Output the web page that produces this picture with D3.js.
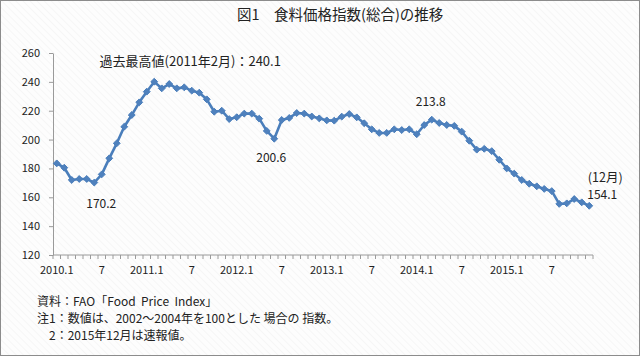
<!DOCTYPE html>
<html><head><meta charset="utf-8">
<script src="https://cdn.jsdelivr.net/npm/d3@7"></script>
<style>
html,body{margin:0;padding:0;background:#fff;}
svg{display:block;font-family:"Noto Sans CJK JP","Noto Sans",sans-serif;}
</style></head>
<body>
<svg id="c" width="640" height="356"></svg>
<script>
const months = d3.range(72);
const xTickLabels = ["2010.1","7","2011.1","7","2012.1","7","2013.1","7","2014.1","7","2015.1","7"];
const values = [
 183.5,180.5,172.0,172.7,172.7,170.2,175.9,187.0,197.4,208.9,217.0,225.8,
 233.2,240.1,235.5,238.5,235.5,236.2,233.9,232.5,227.9,219.3,220.0,214.2,
 215.5,218.0,218.0,214.5,206.0,200.6,213.6,215.0,218.4,218.0,216.0,214.7,
 213.3,213.1,215.9,217.7,215.4,211.3,207.1,204.6,204.6,207.1,206.6,207.1,
 203.7,210.1,213.8,211.5,210.1,209.5,205.5,199.2,193.0,193.6,192.0,186.0,
 180.0,176.4,172.0,169.4,167.6,165.8,164.3,155.4,155.8,158.8,156.5,154.1
];
const yTicks = [120,140,160,180,200,220,240,260];
const annotations = [
 {i:13, text:"過去最高値(2011年2月)：240.1", dx:36, dy:-16, size:13},
 {i:5, text:"170.2", dx:7, dy:25, size:12},
 {i:29, text:"200.6", dx:-3, dy:23, size:12},
 {i:50, text:"213.8", dx:-1, dy:-14, size:12}
];
const title = "図1　食料価格指数(総合)の推移";
const notes = ["資料：FAO「Food  Price  Index」","注1：数値は、2002～2004年を100とした 場合の 指数。","　2：2015年12月は速報値。"];

const svg = d3.select("#c");
const defs = svg.append("defs");
const pat = defs.append("pattern").attr("id","hatch").attr("patternUnits","userSpaceOnUse")
  .attr("width",5).attr("height",5).attr("patternTransform","rotate(-45)");
pat.append("rect").attr("width",5).attr("height",5).attr("fill","#fdfdfd");
pat.append("line").attr("x1",0).attr("y1",0).attr("x2",0).attr("y2",5).attr("stroke","#efefef").attr("stroke-width",1);
svg.append("rect").attr("x",0).attr("y",0).attr("width",640).attr("height",356).attr("fill","url(#hatch)");
svg.append("rect").attr("x",0.5).attr("y",0.5).attr("width",639).attr("height",355)
  .attr("fill","none").attr("stroke","#8c8c8c");

const x = d3.scaleBand().domain(months).range([53,593]);
const y = d3.scaleLinear().domain([120,260]).range([255,53]);

// y axis
const yAxis = svg.append("g").attr("transform","translate(53,0)")
  .call(d3.axisLeft(y).tickValues(yTicks).tickSize(4).tickSizeOuter(0).tickPadding(9));
yAxis.select(".domain").attr("stroke","#9a9a9a");
yAxis.selectAll(".tick line").attr("stroke","#9a9a9a");
yAxis.selectAll("text").attr("font-size",11).attr("fill","#222")
  .attr("font-family","'Noto Sans CJK JP',sans-serif");

// x axis: month ticks at band edges
const xg = svg.append("g").attr("transform","translate(0,255)");
xg.append("line").attr("x1",x.range()[0]).attr("x2",x.range()[1]).attr("stroke","#9a9a9a");
const edges = d3.range(73);
xg.selectAll("line.t").data(edges).join("line").attr("class","t")
  .attr("x1",d=>x.range()[0]+d*x.step()).attr("x2",d=>x.range()[0]+d*x.step())
  .attr("y1",0).attr("y2",4).attr("stroke","#9a9a9a");
xg.selectAll("text").data(xTickLabels).join("text")
  .attr("x",(d,k)=>x(k*6)+x.bandwidth()/2).attr("y",19)
  .attr("text-anchor","middle").attr("font-size",11).attr("fill","#222").text(d=>d);

// line
const cx = i=>x(i)+x.bandwidth()/2;
svg.append("path").datum(values)
  .attr("d",d3.line().x((d,i)=>cx(i)).y(d=>y(d)))
  .attr("fill","none").attr("stroke","#4a7ebb").attr("stroke-width",2.6).attr("stroke-linejoin","round");
svg.selectAll("path.m").data(values).join("path").attr("class","m")
  .attr("transform",(d,i)=>`translate(${cx(i)},${y(d)})`)
  .attr("d",d3.symbol().type(d3.symbolDiamond2).size(30))
  .attr("fill","#4f81bd").attr("stroke","#4a7ebb").attr("stroke-width",1);

// annotations
svg.selectAll("text.ann").data(annotations).join("text").attr("class","ann")
  .attr("x",d=>cx(d.i)+d.dx).attr("y",d=>y(values[d.i])+d.dy)
  .attr("text-anchor","middle").attr("font-size",d=>d.size).attr("fill","#222").text(d=>d.text);
const last = values.length-1;
svg.append("text").attr("x",cx(last)+16).attr("y",y(values[last])-24)
  .attr("text-anchor","middle").attr("font-size",12.5).attr("fill","#222").text("(12月)");
svg.append("text").attr("x",cx(last)+13).attr("y",y(values[last])-7)
  .attr("text-anchor","middle").attr("font-size",12).attr("fill","#222").text(values[last].toFixed(1));

// title
svg.append("text").attr("x",237).attr("y",20).attr("text-anchor","start")
  .attr("font-size",14.5).attr("fill","#222").text(title);

// notes
svg.selectAll("text.note").data(notes).join("text").attr("class","note")
  .attr("x",37).attr("y",(d,k)=>306+k*17).attr("font-size",12).attr("fill","#222")
  .attr("xml:space","preserve").style("white-space","pre").text(d=>d);
</script>
</body></html>
